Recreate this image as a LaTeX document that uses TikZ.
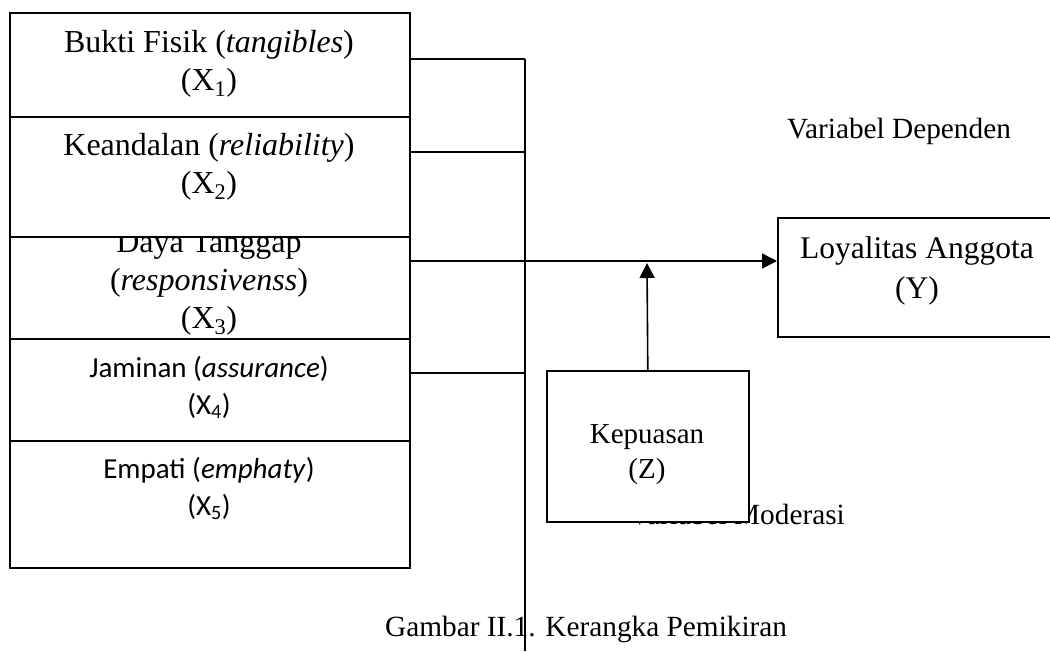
\documentclass[tikz,border=0pt]{standalone}
\usepackage{fontspec}
\setmainfont{Liberation Serif}
\newfontfamily\calibri{Carlito}
\usetikzlibrary{arrows.meta}
\tikzset{
	box/.style={draw, fill=white, line width=1.6pt, inner sep=0pt, anchor=north west},
	txt/.style={align=center, inner sep=0pt, anchor=north, font=\fontsize{32}{38}\selectfont},
	cal/.style={txt, font=\calibri\fontsize{29}{37}\selectfont},
	lbl/.style={inner sep=0pt, font=\fontsize{29.3}{35}\selectfont},
	conn/.style={line width=1.4pt},
	bus/.style={line width=1.2pt},
	arr/.style={line width=1.6pt, -{Triangle[length=15pt,width=15pt]}}
}
\begin{document}
\begin{tikzpicture}[x=1pt, y=-1pt]
	\useasboundingbox (0,0) rectangle (1050,651);
	\clip (0,0) rectangle (1050,651);
	% labels first, the boxes cover them
	\node[lbl, anchor=base east] (lmod) at (845,524) {Variabel Moderasi};
	\node[lbl, anchor=base west] (ldep) at (787,138) {Variabel Dependen};
	\node[lbl, anchor=base west] (cap) at (385,636) {Gambar II.1. Kerangka Pemikiran};
	
	% independent variables, bottom up
	\node[box, minimum width=400, minimum height=127] (x5) at (9,440) {};
	\node[cal] (t5) at (209,457) {Empati (\textit{emphaty})\\(X\textsubscript{5})};
	\node[box, minimum width=400, minimum height=102] (x4) at (9,338) {};
	\node[cal] (t4) at (209,356) {Jaminan (\textit{assurance})\\(X\textsubscript{4})};
	\node[box, minimum width=400, minimum height=102] (x3) at (9,236) {};
	\node[txt] (t3) at (209,231) {Daya Tanggap\\(\textit{responsivenss})\\(X\textsubscript{3})};
	\node[box, minimum width=400, minimum height=120] (x2) at (9,116) {};
	\node[txt] (t2) at (209,133) {Keandalan (\textit{reliability})\\(X\textsubscript{2})};
	\node[box, minimum width=400, minimum height=104] (x1) at (9,12) {};
	\node[txt] (t1) at (209,30) {Bukti Fisik (\textit{tangibles})\\(X\textsubscript{1})};
	
	\node[box, minimum width=280, minimum height=119] (y) at (777,217) {};
	\node[txt, font=\fontsize{31.5}{40}\selectfont] (ty) at (917,236) {Loyalitas Anggota\\(Y)};
	\node[box, minimum width=202, minimum height=151] (z) at (546,370) {};
	\node[txt, font=\fontsize{29}{35}\selectfont] (tz) at (647,424.5) {Kepuasan\\(Z)};
	
	\coordinate (b1) at (525,59);
	\coordinate (b2) at (525,152);
	\coordinate (b4) at (525,373);
	\coordinate (bend) at (525,651);
	\coordinate (j) at (647,261);
	\draw[bus] (b1) -- (bend);
	\draw[conn] (x1.east |- b1) -- (b1);
	\draw[conn] (x2.east |- b2) -- (b2);
	\draw[conn] (x4.east |- b4) -- (b4);
	\draw[arr] (x3.east |- j) -- (y.west |- j);
	\draw[arr] (z.north) -- ([yshift=-2pt]j);
\end{tikzpicture}
\end{document}
